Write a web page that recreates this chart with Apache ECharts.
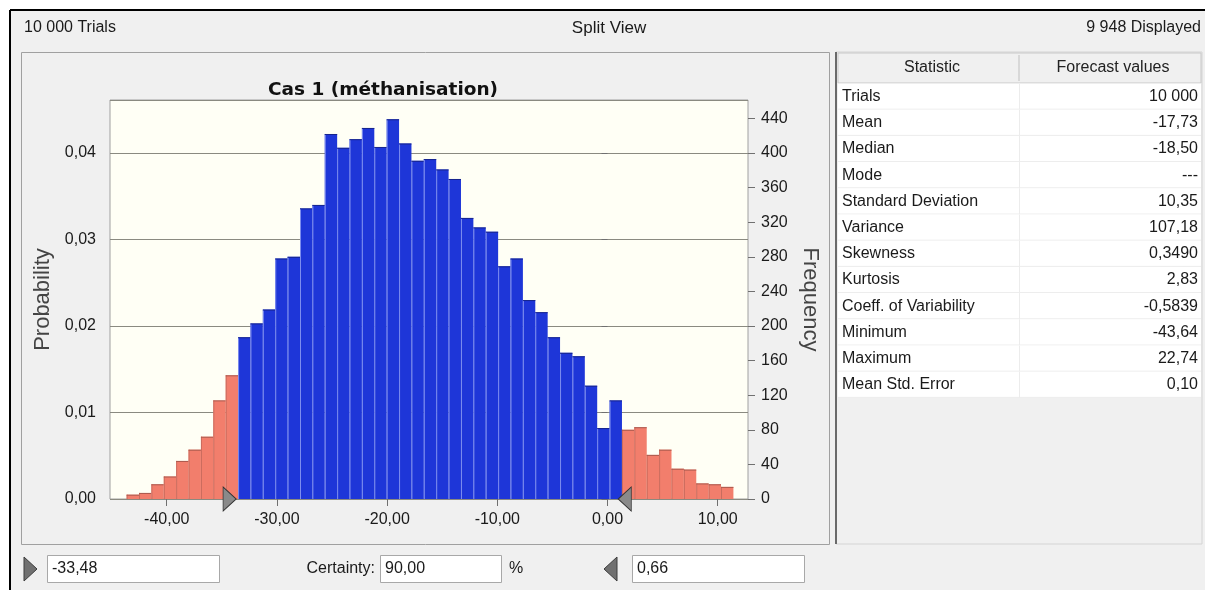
<!DOCTYPE html>
<html>
<head>
<meta charset="utf-8">
<script src="https://cdn.jsdelivr.net/npm/echarts@6/dist/echarts.min.js"></script>
<style>
html,body{margin:0;padding:0;background:#fff}
#chart{width:1205px;height:590px}
</style>
</head>
<body>
<div id="chart"></div>
<script>
// histogram (49 displayed bins)
var binStart = -43.64;
var binWidth = 1.1238;
var frequency = [5, 7, 17, 26, 44, 57, 72, 114, 143,
	187, 203, 219, 278, 280, 336, 340, 422, 406, 416, 429,
	407, 439, 411, 391, 393, 381, 370, 325, 314, 309,
	269, 278, 230, 216, 187, 169, 165, 131, 82, 114,
	80, 83, 51, 57, 35, 34, 18, 17, 14];
var trials = 10000;
var lowerCertainty = -33.48;
var upperCertainty = 0.66;
var xTicks = [-40, -30, -20, -10, 0, 10];
var xMin = -45.15, xMax = 12.75;
var freqMax = 461.3;

var statNames = ['Trials', 'Mean', 'Median', 'Mode', 'Standard Deviation', 'Variance', 'Skewness',
	'Kurtosis', 'Coeff. of Variability', 'Minimum', 'Maximum', 'Mean Std. Error'];
var statValues = ['10 000', '-17,73', '-18,50', '---', '10,35', '107,18', '0,3490',
	'2,83', '-0,5839', '-43,64', '22,74', '0,10'];

var FONT = '"Liberation Sans", Arial, sans-serif';
var comma = function (v) { return v.toFixed(2).replace('.', ','); };

var chart = echarts.init(document.getElementById('chart'));

var bins = frequency.map(function (f, i) {
	var a = binStart + i * binWidth, b = a + binWidth;
	var inside = (b > lowerCertainty && a < upperCertainty) ? 1 : 0;
	return [a, b, f, inside];
});

// window furniture
var graphic = [];
graphic.push({type: 'rect', z: -10, shape: {x: 10, y: 10, width: 1195, height: 580}, style: {fill: '#f0f0f0'}});
graphic.push({type: 'line', shape: {x1: 10, y1: 10, x2: 1205, y2: 10}, style: {stroke: '#000', lineWidth: 2}});
graphic.push({type: 'line', shape: {x1: 10, y1: 10, x2: 10, y2: 590}, style: {stroke: '#000', lineWidth: 2}});
graphic.push({type: 'text', left: 24, top: 20, style: {text: '10 000 Trials', font: '16px ' + FONT, fill: '#1a1a1a'}});
graphic.push({type: 'text', x: 609, y: 28, style: {text: 'Split View', font: '17px ' + FONT, fill: '#1a1a1a', align: 'center', verticalAlign: 'middle'}});
graphic.push({type: 'text', x: 1201, y: 28, style: {text: '9 948 Displayed', font: '16px ' + FONT, fill: '#1a1a1a', align: 'right', verticalAlign: 'middle'}});
graphic.push({type: 'rect', shape: {x: 21.5, y: 52.5, width: 808, height: 492}, style: {fill: 'none', stroke: '#a0a0a0', lineWidth: 1}});

// statistics panel
graphic.push({type: 'rect', shape: {x: 836, y: 52, width: 366, height: 492}, style: {fill: '#f0f0f0', stroke: '#d4d4d4'}});
graphic.push({type: 'line', shape: {x1: 836, y1: 52, x2: 836, y2: 544}, style: {stroke: '#6a6a6a', lineWidth: 2}});
graphic.push({type: 'rect', shape: {x: 838, y: 53, width: 363, height: 30}, style: {fill: '#f0f0f0', stroke: '#c8c8c8'}});
graphic.push({type: 'line', shape: {x1: 1019, y1: 55, x2: 1019, y2: 81}, style: {stroke: '#c0c0c0'}});
graphic.push({type: 'text', x: 932, y: 68, style: {text: 'Statistic', font: '16px ' + FONT, fill: '#222', align: 'center', verticalAlign: 'middle'}});
graphic.push({type: 'text', x: 1113, y: 68, style: {text: 'Forecast values', font: '16px ' + FONT, fill: '#222', align: 'center', verticalAlign: 'middle'}});
var rowH = 26.2, rowTop = 83.5;
statNames.forEach(function (name, i) {
	var y = rowTop + i * rowH;
	graphic.push({type: 'rect', shape: {x: 838, y: y, width: 363, height: rowH}, style: {fill: '#fff'}});
	graphic.push({type: 'line', shape: {x1: 838, y1: y + rowH - 0.5, x2: 1201, y2: y + rowH - 0.5}, style: {stroke: '#ececec'}});
	graphic.push({type: 'line', shape: {x1: 1019.5, y1: y, x2: 1019.5, y2: y + rowH}, style: {stroke: '#ececec'}});
	graphic.push({type: 'text', x: 842, y: y + rowH / 2, style: {text: name, font: '16px ' + FONT, fill: '#1a1a1a', verticalAlign: 'middle'}});
	graphic.push({type: 'text', x: 1198, y: y + rowH / 2, style: {text: statValues[i], font: '16px ' + FONT, fill: '#1a1a1a', align: 'right', verticalAlign: 'middle'}});
});

// certainty controls
var ctl = {font: '16px ' + FONT, fill: '#1a1a1a', verticalAlign: 'middle'};
graphic.push({type: 'polygon', shape: {points: [[24, 557], [37, 569], [24, 581]]}, style: {fill: '#707070', stroke: '#3c3c3c'}});
graphic.push({type: 'rect', shape: {x: 47.5, y: 555.5, width: 172, height: 27}, style: {fill: '#fff', stroke: '#a8a8a8'}});
graphic.push({type: 'text', x: 52, y: 569, style: Object.assign({text: comma(lowerCertainty)}, ctl)});
graphic.push({type: 'text', x: 375, y: 569, style: Object.assign({text: 'Certainty:', align: 'right'}, ctl)});
graphic.push({type: 'rect', shape: {x: 380.5, y: 555.5, width: 121, height: 27}, style: {fill: '#fff', stroke: '#a8a8a8'}});
graphic.push({type: 'text', x: 385, y: 569, style: Object.assign({text: '90,00'}, ctl)});
graphic.push({type: 'text', x: 509, y: 569, style: Object.assign({text: '%'}, ctl)});
graphic.push({type: 'polygon', shape: {points: [[617, 557], [604, 569], [617, 581]]}, style: {fill: '#707070', stroke: '#3c3c3c'}});
graphic.push({type: 'rect', shape: {x: 632.5, y: 555.5, width: 172, height: 27}, style: {fill: '#fff', stroke: '#a8a8a8'}});
graphic.push({type: 'text', x: 637, y: 569, style: Object.assign({text: comma(upperCertainty)}, ctl)});

var option = {
	backgroundColor: '#fff',
	animation: false,
	title: {
		text: 'Cas 1 (méthanisation)',
		left: 378, top: 76, textAlign: 'center',
		textStyle: {fontFamily: '"DejaVu Sans", sans-serif', fontWeight: 'bold', fontSize: 18.5, color: '#111'}
	},
	grid: {
		left: 110, right: 457, top: 100, bottom: 91,
		show: true, backgroundColor: '#fffff5', borderColor: '#a0a0a0', borderWidth: 1
	},
	xAxis: {
		type: 'value', min: xMin, max: xMax,
		axisLine: {show: false},
		splitLine: {show: false},
		axisTick: {show: true, customValues: xTicks, length: 7, lineStyle: {color: '#707070'}},
		axisLabel: {customValues: xTicks, formatter: comma, margin: 13, fontSize: 16, fontFamily: FONT, color: '#1a1a1a'}
	},
	yAxis: [
		{
			type: 'value', position: 'left', min: 0, max: freqMax / trials, interval: 0.01,
			name: 'Probability', nameLocation: 'middle', nameGap: 50, nameRotate: 90,
			nameTextStyle: {fontSize: 22, fontFamily: FONT, color: '#444'},
			axisLine: {show: false},
			axisTick: {show: true, length: 6, lineStyle: {color: '#707070'}},
			axisLabel: {formatter: comma, showMaxLabel: false, margin: 14, fontSize: 16, fontFamily: FONT, color: '#1a1a1a'},
			splitLine: {show: true, lineStyle: {color: '#8a8a80', width: 1}}
		},
		{
			type: 'value', position: 'right', min: 0, max: freqMax, interval: 40,
			name: 'Frequency', nameLocation: 'middle', nameGap: 50, nameRotate: -90,
			nameTextStyle: {fontSize: 22, fontFamily: FONT, color: '#444'},
			axisLine: {show: false},
			axisTick: {show: true, length: 7, lineStyle: {color: '#707070'}},
			axisLabel: {showMaxLabel: false, margin: 13, fontSize: 16, fontFamily: FONT, color: '#1a1a1a'},
			splitLine: {show: false}
		}
	],
	graphic: graphic,
	series: [
		{
			type: 'custom',
			yAxisIndex: 1,
			encode: {x: [0, 1], y: 2},
			data: bins,
			renderItem: function (params, api) {
				var p0 = api.coord([api.value(0), 0]);
				var p1 = api.coord([api.value(1), api.value(2)]);
				var inside = api.value(3);
				var fill = inside ? '#1e36d8' : '#f27e6c';
				var edge = inside ? '#7d8def' : '#c96c5e';
				var top = inside ? '#17258c' : '#a95a4e';
				return {
					type: 'group',
					children: [
						{type: 'rect', shape: {x: p0[0], y: p1[1], width: p1[0] - p0[0], height: p0[1] - p1[1]}, style: {fill: fill}},
						{type: 'line', shape: {x1: p0[0] + 0.5, y1: p1[1], x2: p0[0] + 0.5, y2: p0[1]}, style: {stroke: edge, lineWidth: 1}},
						{type: 'line', shape: {x1: p0[0], y1: p1[1] + 0.5, x2: p1[0], y2: p1[1] + 0.5}, style: {stroke: top, lineWidth: 1}}
					]
				};
			}
		},
		{
			type: 'scatter',
			yAxisIndex: 1,
			clip: false,
			z: 5,
			data: [
				{value: [lowerCertainty, 0], symbol: 'path://M0,0L13,12L0,24Z', symbolSize: [13, 24], symbolOffset: [-9, 0]},
				{value: [upperCertainty, 0], symbol: 'path://M13,0L0,12L13,24Z', symbolSize: [13, 24], symbolOffset: [10, 0]}
			],
			itemStyle: {color: '#8a8a8a', borderColor: '#333', borderWidth: 1, opacity: 1}
		}
	]
};
chart.setOption(option);
</script>
</body>
</html>
